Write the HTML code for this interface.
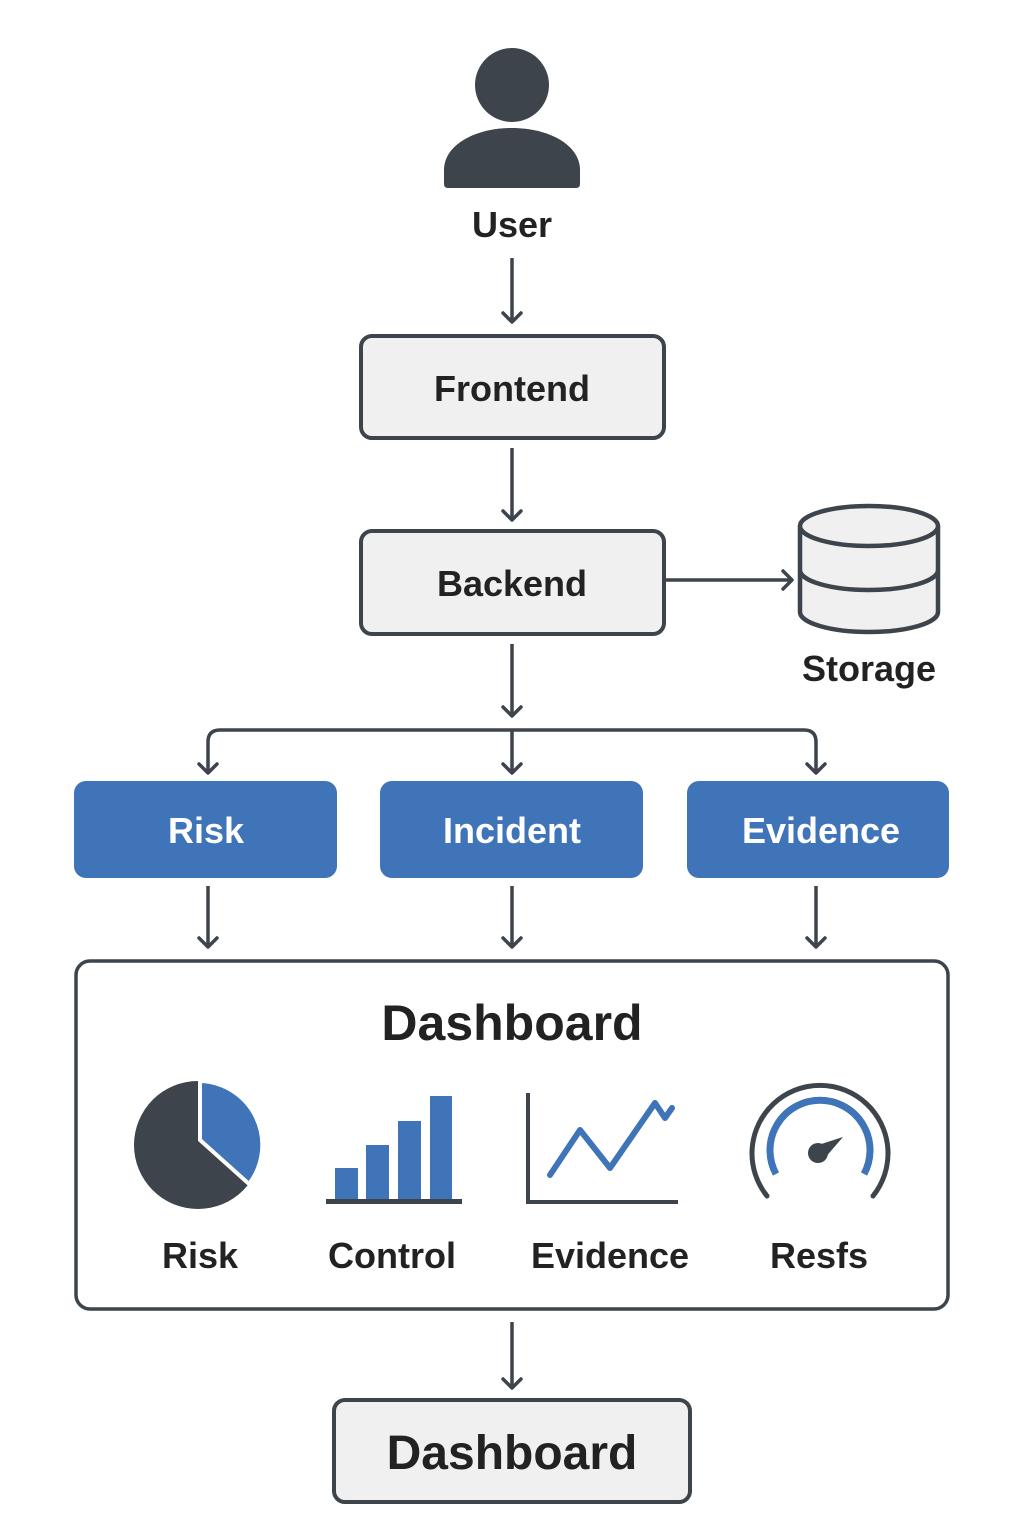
<!DOCTYPE html>
<html><head><meta charset="utf-8"><style>
html,body{margin:0;padding:0;background:#fff;}
svg{display:block;}
text{font-family:"Liberation Sans",sans-serif;font-weight:bold;}
</style></head><body>
<svg width="1024" height="1536" viewBox="0 0 1024 1536" xmlns="http://www.w3.org/2000/svg">
<defs>
<marker id="a" viewBox="0 0 24 24" refX="21" refY="12" markerWidth="24" markerHeight="24" markerUnits="userSpaceOnUse" orient="auto">
<path d="M12,3 L21,12 L12,21" fill="none" stroke="#3d444c" stroke-width="3.5" stroke-linecap="round" stroke-linejoin="round"/>
</marker>
</defs>
<g fill="#3d444c">
<circle cx="512" cy="85" r="37"/>
<path d="M444,184 L444,170 C444,145 475,128 512,128 C549,128 580,145 580,170 L580,184 Q580,188 576,188 L448,188 Q444,188 444,184 Z"/>
</g>
<text x="512" y="237" font-size="36" text-anchor="middle" fill="#222">User</text>
<g stroke="#3d444c" stroke-width="3.5" fill="none" marker-end="url(#a)">
<line x1="512" y1="258" x2="512" y2="322"/>
<line x1="512" y1="448" x2="512" y2="520"/>
<line x1="512" y1="644" x2="512" y2="716"/>
<line x1="664" y1="580" x2="792" y2="580"/>
<path d="M512,730 L804,730 Q816,730 816,742 L816,773"/>
<path d="M512,730 L220,730 Q208,730 208,742 L208,773"/>
<line x1="512" y1="730" x2="512" y2="773"/>
<line x1="208" y1="886" x2="208" y2="947"/>
<line x1="512" y1="886" x2="512" y2="947"/>
<line x1="816" y1="886" x2="816" y2="947"/>
<line x1="512" y1="1322" x2="512" y2="1388"/>
</g>
<g stroke="#3d444c" stroke-width="4" fill="#f0f0f0">
<rect x="361" y="336" width="303" height="102" rx="11"/>
<rect x="361" y="531" width="303" height="103" rx="11"/>
<rect x="334" y="1400" width="356" height="102" rx="11"/>
</g>
<rect x="76" y="961" width="872" height="348" rx="14" fill="#fff" stroke="#3d444c" stroke-width="3.5"/>
<text x="512" y="401" font-size="36" text-anchor="middle" fill="#222">Frontend</text>
<text x="512" y="596" font-size="36" text-anchor="middle" fill="#222">Backend</text>
<text x="512" y="1469" font-size="48" text-anchor="middle" fill="#222">Dashboard</text>
<g stroke="#3d444c" stroke-width="4.5" fill="#f0f0f0">
<path d="M800,526 L800,612 A69,20 0 0 0 938,612 L938,526"/>
<path d="M800,570 A69,20 0 0 0 938,570" fill="none"/>
<ellipse cx="869" cy="526" rx="69" ry="20"/>
</g>
<text x="869" y="681" font-size="36" text-anchor="middle" fill="#222">Storage</text>
<g fill="#3f74b9">
<rect x="74" y="781" width="263" height="97" rx="12"/>
<rect x="380" y="781" width="263" height="97" rx="12"/>
<rect x="687" y="781" width="262" height="97" rx="12"/>
</g>
<g font-size="36" text-anchor="middle" fill="#fff">
<text x="206" y="843">Risk</text>
<text x="512" y="843">Incident</text>
<text x="821" y="843">Evidence</text>
</g>
<text x="512" y="1040" font-size="50" text-anchor="middle" fill="#222">Dashboard</text>
<circle cx="198" cy="1145" r="64" fill="#3d444c"/>
<path d="M200,1081 A64,64 0 0 1 249,1184 L200,1140 Z" fill="#3f74b9" stroke="#fff" stroke-width="4"/>
<g fill="#3f74b9">
<rect x="335" y="1168" width="23" height="32"/>
<rect x="366" y="1145" width="23" height="55"/>
<rect x="398" y="1121" width="23" height="79"/>
<rect x="430" y="1096" width="22" height="104"/>
</g>
<rect x="326" y="1199" width="136" height="5" fill="#3d444c"/>
<path d="M528,1093 L528,1202 L678,1202" fill="none" stroke="#3d444c" stroke-width="4"/>
<path d="M550,1175 L580,1130 L610,1168 L655,1103 L665,1118 L672,1108" fill="none" stroke="#3f74b9" stroke-width="6" stroke-linejoin="round" stroke-linecap="round"/>
<path d="M767,1196 A68,68 0 1 1 873,1196" fill="none" stroke="#3d444c" stroke-width="5" stroke-linecap="round"/>
<path d="M776,1174 A50,50 0 1 1 864,1174" fill="none" stroke="#3f74b9" stroke-width="7"/>
<circle cx="818" cy="1153" r="10" fill="#3d444c"/>
<path d="M812,1147 L843,1137 L824,1159 Z" fill="#3d444c"/>
<g font-size="36" text-anchor="middle" fill="#222">
<text x="200" y="1268">Risk</text>
<text x="392" y="1268">Control</text>
<text x="610" y="1268">Evidence</text>
<text x="819" y="1268">Resfs</text>
</g>
</svg>
</body></html>
